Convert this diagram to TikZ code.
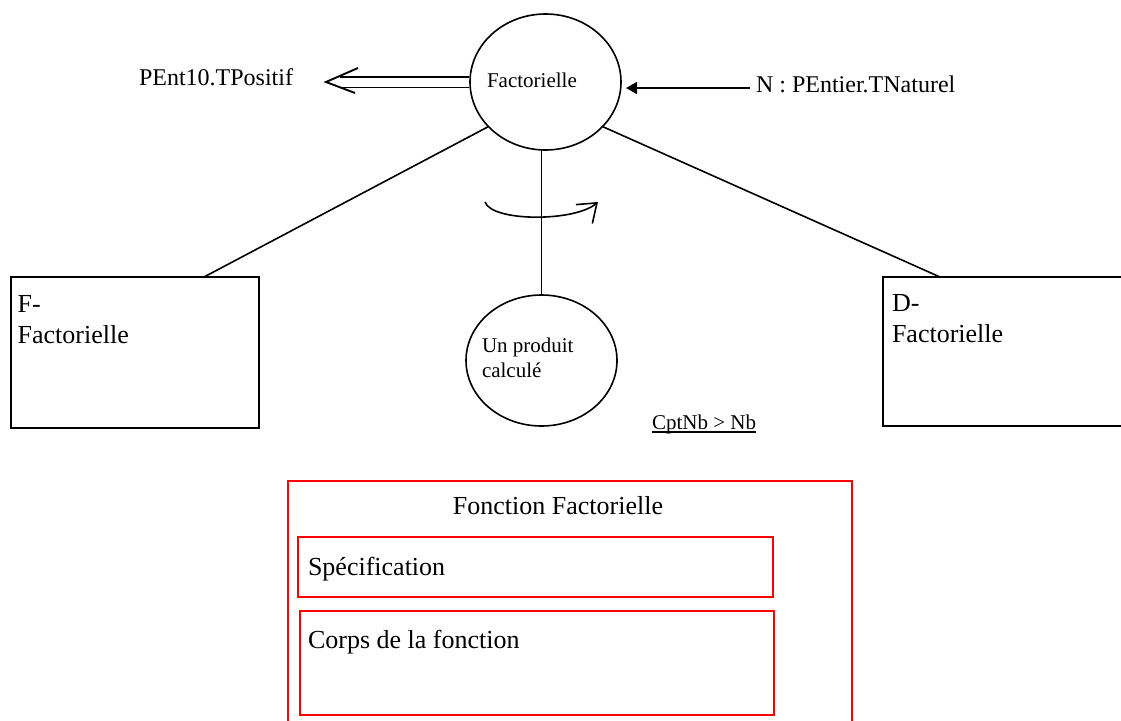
\documentclass[tikz,border=0pt]{standalone}
\usepackage{fontspec}
\setmainfont{Liberation Serif}
\usetikzlibrary{shapes.geometric,arrows.meta}
\begin{document}
\begin{tikzpicture}[x=1pt,y=-1pt,
  every node/.style={inner sep=0pt, outer sep=0pt},
  ln/.style={line width=1.6pt},
  bulle/.style={draw, ellipse, line width=1.6pt},
  boite/.style={draw, rectangle, line width=1.6pt, anchor=north west},
  cadre/.style={draw=red, rectangle, line width=2pt, anchor=north west},
  txtS/.style={font=\fontsize{21}{25}\selectfont, anchor=base west},
  txtM/.style={font=\fontsize{24}{28}\selectfont, anchor=base west},
  txtL/.style={font=\fontsize{26}{31}\selectfont, anchor=base west, align=left},
]
\useasboundingbox (0,0) rectangle (1121,720);
\clip (0,0) rectangle (1121,720);

% main process bubble and its result bubble
\node[bulle, minimum width=151pt, minimum height=136pt] (fact) at (545.5,82) {};
\node[txtS] (factlbl) at (487,87) {Factorielle};
\node[bulle, minimum width=151pt, minimum height=131pt] (prod) at (541.5,360.5) {};
\node[txtS, align=left] (prodlbl) at (482,377) {Un produit\\calculé};

% data / result boxes
\node[boite, minimum width=248pt, minimum height=151pt] (fbox) at (11,277) {};
\node[txtL] (flbl) at (17.6,343) {F-\\Factorielle};
\node[boite, minimum width=260pt, minimum height=149pt] (dbox) at (883,277) {};
\node[txtL] (dlbl) at (892,342) {D-\\Factorielle};

% links from the bubble
\draw[ln] (fact.218) -- ([xshift=193pt]fbox.north west);
\draw[ln] (fact.322) -- ([xshift=57pt]dbox.north west);
\draw[ln] (prod.north) -- (prod.north |- fact.south);

% output (double arrow)
\node[txtM] (outlbl) at (139,85) {PEnt10.TPositif};
\coordinate (outtip) at (326,82);
\coordinate (outend) at (340,82);
\draw[line width=1.9pt, double, double distance=9pt] ([xshift=-0.8pt]fact.west) -- (outend);
\draw[line width=1.9pt] ([xshift=32pt,yshift=14pt]outtip) -- (outtip) -- ([xshift=29pt,yshift=-11pt]outtip);

% input
\node[txtM] (inlbl) at (756,92) {N : PEntier.TNaturel};
\draw[ln, -{Triangle[length=11pt,width=12pt]}] ([xshift=-6pt,yshift=4pt]inlbl.base west) -- ([xshift=5pt,yshift=-6pt]fact.east);

% loop symbol
\coordinate (rotA) at (485,202);
\coordinate (rotB) at (598,202);
\draw[ln, -{Straight Barb[length=17pt,width=25pt]}] (rotA) .. controls +(7,20) and +(-23,20) .. (rotB);

% stop condition
\node[txtS] (cpt) at (652,429) {CptNb > Nb};
\draw[line width=1.1pt] ([yshift=-3pt]cpt.base west) -- ([yshift=-3pt]cpt.base east);

% function frame
\node[cadre, minimum width=564.5pt, minimum height=260pt] (fonc) at (287.5,481) {};
\node[font=\fontsize{26}{31}\selectfont, anchor=base] (fonclbl) at (558,514) {Fonction Factorielle};
\node[cadre, minimum width=475.5pt, minimum height=60pt] (spec) at (297.5,536.7) {};
\node[txtL] (speclbl) at (308,575) {Spécification};
\node[cadre, minimum width=474pt, minimum height=104pt] (corps) at (299.5,610.7) {};
\node[txtL] (corpslbl) at (308,648) {Corps de la fonction};
\end{tikzpicture}
\end{document}
